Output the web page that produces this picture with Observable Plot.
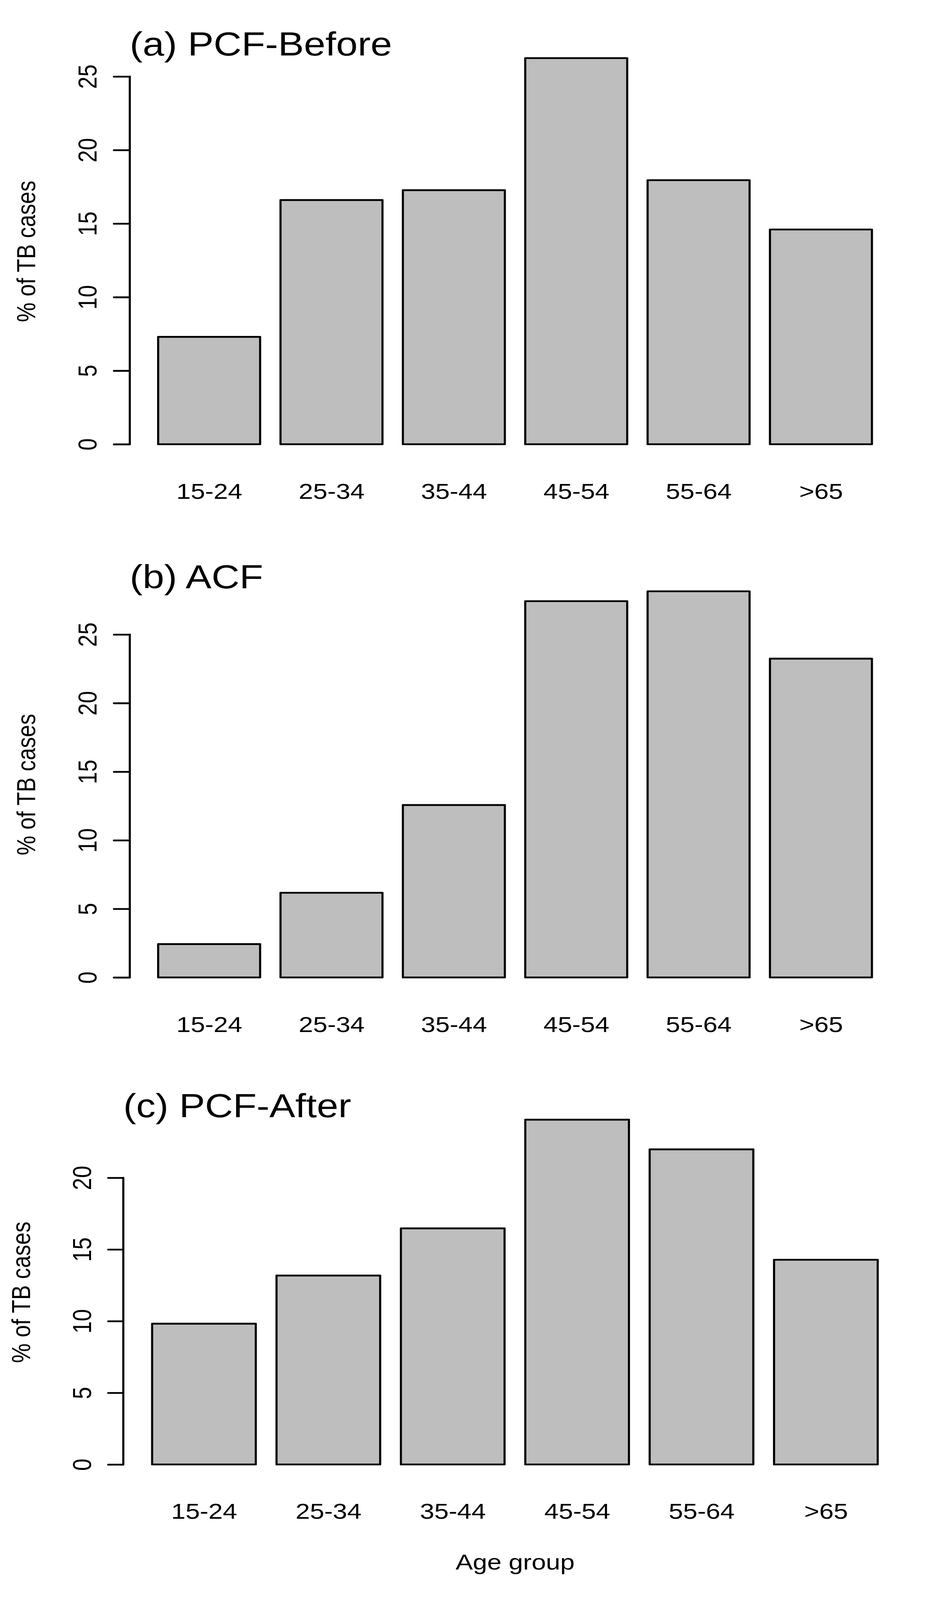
<!DOCTYPE html>
<html>
<head>
<meta charset="utf-8">
<script src="https://cdn.jsdelivr.net/npm/d3@7"></script>
<script src="https://cdn.jsdelivr.net/npm/@observablehq/plot@0.6"></script>
<style>
  html, body { margin: 0; padding: 0; background: #ffffff; overflow: hidden; }
  #chart svg { display: block; }
</style>
</head>
<body>
<div id="chart"></div>
<script>
// ---- data ----
const ageGroups = ["15-24", "25-34", "35-44", "45-54", "55-64", ">65"];
const pcfBefore = [7.3, 16.6, 17.27, 26.25, 17.95, 14.6];
const acf       = [2.43, 6.17, 12.57, 27.43, 28.15, 23.24];
const pcfAfter  = [9.82, 13.18, 16.47, 24.05, 21.98, 14.28];
const ticksAB = [0, 5, 10, 15, 20, 25];
const ticksC  = [0, 5, 10, 15, 20];
const titles = ["(a) PCF-Before", "(b) ACF", "(c) PCF-After"];
const yLabel = "% of TB cases";
const xLabel = "Age group";

// ---- layout (pixels, in the 2400 x 4800 design space) ----
const W = 2400, H = 1600, TOTAL_H = 4800;
const LW = 5.4;
const panels = [
  {values: pcfBefore, ticks: ticksAB, title: titles[0], mL: 331.6, mR: 96, mT: 128, mB: 221, titleDy: 37.6, xPad: 70.3, ylabDx: -242.6, tick: 40, xlab: false},
  {values: acf,       ticks: ticksAB, title: titles[1], mL: 331.6, mR: 96, mT: 128, mB: 221, titleDy: 37.3, xPad: 70.3, ylabDx: -242.6, tick: 40, xlab: false},
  {values: pcfAfter,  ticks: ticksC,  title: titles[2], mL: 315,   mR: 80, mT: 117.3, mB: 365.6, titleDy: 33.7, xPad: 73.7, ylabDx: -238.5, tick: 38, xlab: true}
];

// the window may be shorter than the 4800 px design: fit the figure to it
const kY = Math.min(1, (window.innerHeight || TOTAL_H) / TOTAL_H);
const kX = Math.min(1, (window.innerWidth || W) / W);

const font = "'Liberation Sans', Arial, Helvetica, sans-serif";
const root = document.getElementById("chart");

for (const p of panels) {
  const rows = ageGroups.map((g, i) => ({age: g, value: p.values[i]}));
  const maxV = d3.max(p.values);
  const frameW = W - p.mL - p.mR;
  const marks = [
    Plot.barY(rows, {x: "age", y: "value", fill: "#bebebe", stroke: "black", strokeWidth: LW, strokeLinejoin: "round"}),
    Plot.ruleX([p.ticks], {x: null, y1: d => d[0], y2: d => d[d.length - 1], dx: -frameW / 2,
      stroke: "black", strokeWidth: LW, strokeLinecap: "round"}),
    Plot.axisY({ticks: p.ticks, tickSize: p.tick, tickPadding: 45, tickRotate: -90, label: null,
      stroke: "black", strokeWidth: LW, strokeLinecap: "round", fontSize: 66}),
    Plot.axisX({tickSize: 0, tickPadding: p.xPad, label: null, fontSize: 66}),
    Plot.text([p.title], {frameAnchor: "top-left", text: d => d, fontSize: 99, textAnchor: "start",
      lineAnchor: "bottom", dy: p.titleDy}),
    Plot.text([yLabel], {frameAnchor: "left", text: d => d, fontSize: 66, rotate: -90, textAnchor: "middle",
      lineAnchor: "bottom", dx: p.ylabDx})
  ];
  if (p.xlab) {
    marks.push(Plot.text([xLabel], {frameAnchor: "bottom", text: d => d, fontSize: 66, textAnchor: "middle",
      lineAnchor: "bottom", dy: 273.6}));
  }
  const chart = Plot.plot({
    width: W,
    height: H,
    marginLeft: p.mL,
    marginRight: p.mR,
    marginTop: p.mT,
    marginBottom: p.mB,
    style: {fontFamily: font, fontSize: "66px", background: "#ffffff", color: "#000000", overflow: "visible"},
    x: {type: "band", domain: ageGroups, paddingInner: 0.2 / 1.2, paddingOuter: 0.28 / 1.2, align: 0.5, round: false},
    y: {domain: [-0.04 * maxV, 1.04 * maxV]},
    marks
  });
  chart.setAttribute("preserveAspectRatio", "none");
  chart.style.width = (W * kX) + "px";
  chart.style.height = (H * kY) + "px";
  chart.style.maxWidth = "none";
  root.appendChild(chart);
}
</script>
</body>
</html>
